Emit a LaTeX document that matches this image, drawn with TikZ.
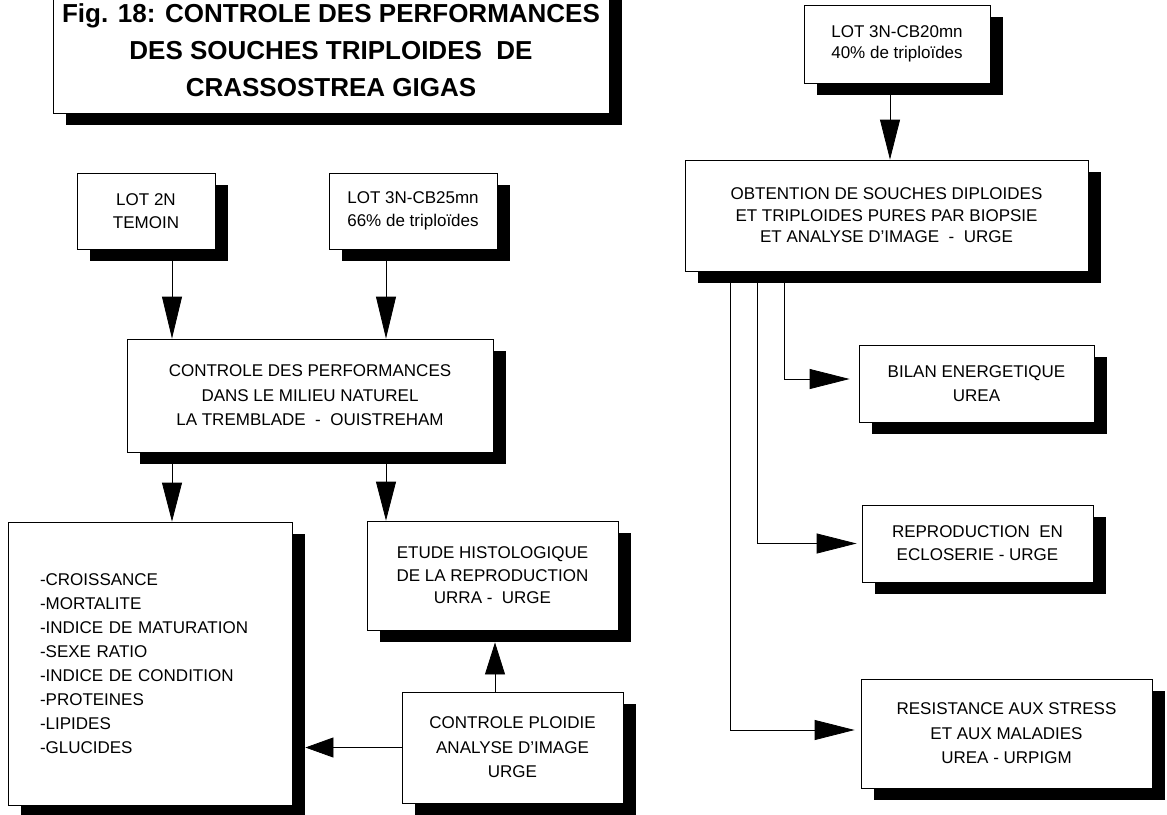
\documentclass[tikz,border=0pt]{standalone}
\usepackage{fontspec}
\setmainfont{Liberation Sans}
\usetikzlibrary{arrows.meta,shadows}
\begin{document}
\begin{tikzpicture}[x=1pt,y=-1pt,
  box/.style={draw, line width=0.8pt, fill=white, inner sep=0pt, align=center,
    font=\fontsize{17}{23.5}\selectfont,
    drop shadow={shadow xshift=13pt, shadow yshift=-12pt, opacity=1, fill=black}},
  arr/.style={line width=0.8pt, -{Triangle[length=#1,width=20pt]}},
  arr/.default=40pt]
\useasboundingbox (0,0) rectangle (1167,814);

% boxes
\node[box, minimum width=556pt, minimum height=124.6pt,
  font=\bfseries\fontsize{26}{37}\selectfont] (title) at (331,50.7)
  {Fig. 18: CONTROLE DES PERFORMANCES\\DES SOUCHES TRIPLOIDES\ \ DE\\CRASSOSTREA GIGAS};

\node[box, minimum width=138pt, minimum height=76pt] (lot2n) at (146,211)
  {LOT 2N\\TEMOIN};
\node[box, minimum width=168pt, minimum height=76pt] (lot3n) at (413,211)
  {LOT 3N-CB25mn\\66\% de triploïdes};
\node[box, minimum width=366pt, minimum height=113pt,
  font=\fontsize{17}{24.5}\selectfont] (ctrl) at (310,395.5)
  {CONTROLE DES PERFORMANCES\\DANS LE MILIEU NATUREL\\LA TREMBLADE\ \ -\ \ OUISTREHAM};
\node[box, minimum width=284pt, minimum height=283pt, align=left, text width=220pt,
  font=\fontsize{17}{24.1}\selectfont] (list) at (150,663.5)
  {-CROISSANCE\\-MORTALITE\\-INDICE DE MATURATION\\-SEXE RATIO\\-INDICE DE CONDITION\\-PROTEINES\\-LIPIDES\\-GLUCIDES};
\node[box, minimum width=251pt, minimum height=109pt,
  font=\fontsize{17}{22.5}\selectfont] (etude) at (492.5,575.5)
  {ETUDE HISTOLOGIQUE\\DE LA REPRODUCTION\\URRA -\ \ URGE};
\node[box, minimum width=221pt, minimum height=111pt,
  font=\fontsize{17}{24.5}\selectfont] (ploidie) at (512.5,747.5)
  {CONTROLE PLOIDIE\\ANALYSE D'IMAGE\\URGE};

\node[box, minimum width=186pt, minimum height=78pt,
  font=\fontsize{17}{21}\selectfont] (lot3nb) at (897,44)
  {LOT 3N-CB20mn\\40\% de triploïdes};
\node[box, minimum width=403pt, minimum height=111pt,
  font=\fontsize{17}{21.5}\selectfont] (obt) at (886.5,215.5)
  {OBTENTION DE SOUCHES DIPLOIDES\\ET TRIPLOIDES PURES PAR BIOPSIE\\ET ANALYSE D'IMAGE\ \ -\ \ URGE};
\node[box, minimum width=235pt, minimum height=77pt,
  font=\fontsize{17}{24}\selectfont] (bilan) at (976.5,383.5)
  {BILAN ENERGETIQUE\\UREA};
\node[box, minimum width=231pt, minimum height=77pt,
  font=\fontsize{17}{23}\selectfont] (repro) at (977.5,543.5)
  {REPRODUCTION\ \ EN\\ECLOSERIE - URGE};
\node[box, minimum width=291pt, minimum height=109pt,
  font=\fontsize{17}{24.5}\selectfont] (resist) at (1006.5,733.5)
  {RESISTANCE AUX STRESS\\ET AUX MALADIES\\UREA - URPIGM};

% connector x positions
\coordinate (xa) at (172,0);
\coordinate (xb) at (386,0);
\coordinate (xc) at (495,0);
\coordinate (xd) at (890,0);
\coordinate (xe) at (784,0);
\coordinate (xf) at (757,0);
\coordinate (xg) at (730,0);

% connectors
\draw[arr=42pt] (lot2n.south -| xa) -- (ctrl.north -| xa);
\draw[arr=42pt] (lot3n.south -| xb) -- (ctrl.north -| xb);
\draw[arr=39pt] (ctrl.south -| xa) -- (list.north -| xa);
\draw[arr=39pt] (ctrl.south -| xb) -- (etude.north -| xb);
\draw[arr=32pt, shorten >=12pt] (ploidie.north -| xc) -- (etude.south -| xc);
\draw[arr=28pt, shorten >=13pt] (ploidie.west) -- (ploidie.west -| list.east);
\draw[arr] (lot3nb.south -| xd) -- (obt.north -| xd);
\draw[arr, shorten >=9pt] (obt.south -| xe) |- ([yshift=4.5pt]bilan.west);
\draw[arr, shorten >=5pt] (obt.south -| xf) |- (repro.west);
\draw[arr, shorten >=6pt] (obt.south -| xg) |- ([yshift=3.5pt]resist.west);
\end{tikzpicture}
\end{document}
